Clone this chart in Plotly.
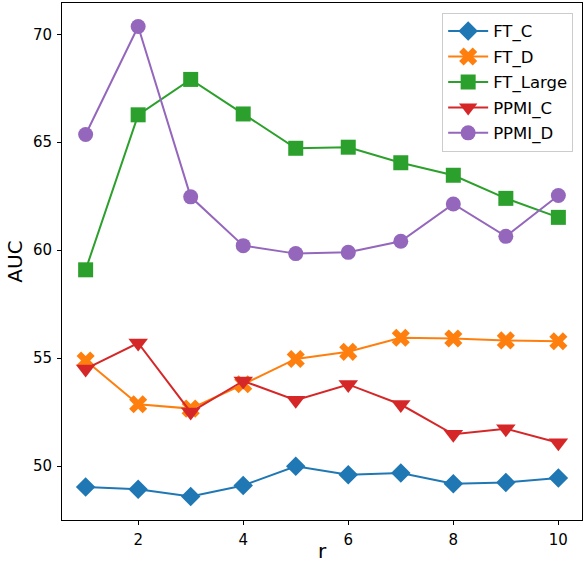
import plotly.graph_objects as go

r_values = [1, 2, 3, 4, 5, 6, 7, 8, 9, 10]
ft_c = [49.03, 48.92, 48.59, 49.10, 49.99, 49.60, 49.68, 49.18, 49.24, 49.44]
ft_d = [54.89, 52.86, 52.66, 53.79, 54.96, 55.29, 55.94, 55.91, 55.82, 55.78]
ft_large = [59.09, 66.27, 67.91, 66.31, 64.72, 64.77, 64.05, 63.47, 62.40, 61.52]
ppmi_c = [54.50, 55.70, 52.50, 53.94, 53.05, 53.78, 52.85, 51.47, 51.73, 51.08]
ppmi_d = [65.36, 70.36, 62.47, 60.21, 59.84, 59.90, 60.41, 62.14, 60.64, 62.53]

x_ticks = [2, 4, 6, 8, 10]
y_ticks = [50, 55, 60, 65, 70]

series = [
    ("FT_C", ft_c, "#1f77b4", "diamond", 15),
    ("FT_D", ft_d, "#ff7f0e", "x", 16),
    ("FT_Large", ft_large, "#2ca02c", "square", 15),
    ("PPMI_C", ppmi_c, "#d62728", "triangle-down", 17),
    ("PPMI_D", ppmi_d, "#9467bd", "circle", 15),
]

fig = go.Figure()
for name, vals, color, sym, size in series:
    fig.add_trace(go.Scatter(
        x=r_values, y=vals, name=name, legendgroup=name, mode="lines+markers",
        line=dict(color=color, width=2),
        marker=dict(symbol=sym, size=size, color=color, line=dict(width=0)),
    ))

font_family = "DejaVu Sans"
axis_common = dict(
    showgrid=False, zeroline=False, showline=True, linecolor="black", linewidth=1,
    mirror=True, ticks="outside", ticklen=4, tickwidth=1, tickcolor="black",
    tickfont=dict(family=font_family, size=15, color="black"), automargin=False,
    ticklabelstandoff=2,
)

fig.update_layout(
    width=584, height=563,
    margin=dict(l=62, r=2, t=3, b=43),
    paper_bgcolor="white", plot_bgcolor="white",
    font=dict(family=font_family, color="black"),
    xaxis=dict(range=[0.55, 10.45], tickvals=x_ticks,
               title=dict(text="r", font=dict(size=20, family=font_family), standoff=1),
               **axis_common),
    yaxis=dict(range=[47.5, 71.45], tickvals=y_ticks,
               title=dict(text="AUC", font=dict(size=20, family=font_family), standoff=4),
               **axis_common),
    legend=dict(x=0.983, y=0.981, xanchor="right", yanchor="top",
                bgcolor="rgba(255,255,255,0.8)", bordercolor="#cccccc", borderwidth=1,
                font=dict(family=font_family, size=16.5, color="black"),
                traceorder="grouped", tracegroupgap=1, itemwidth=40),
    showlegend=True,
)

fig.write_html("out.html", config={"displayModeBar": False},
               post_script="document.body.style.margin='0';document.body.style.overflow='hidden';")
